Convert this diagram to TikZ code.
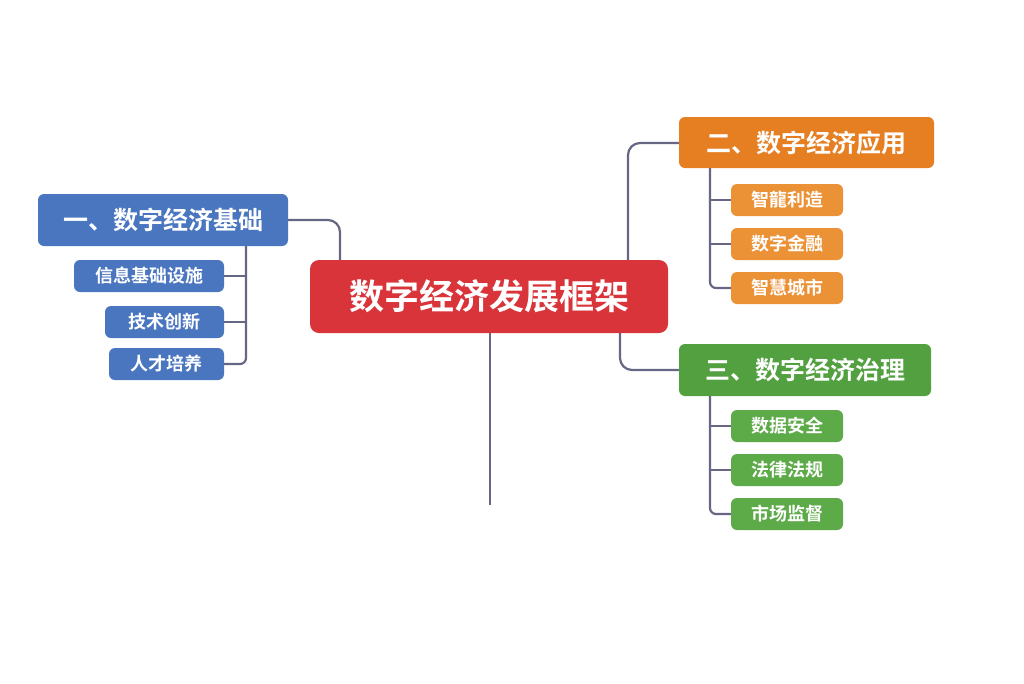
\documentclass[tikz,border=0pt]{standalone}
\usepackage{fontspec}
\setmainfont{Noto Sans CJK SC}
\newfontfamily\cjk{Noto Sans CJK SC Bold}
\begin{document}
\begin{tikzpicture}[x=1pt,y=-1pt,
 box/.style={rounded corners=6pt,text=white,font=\cjk,inner sep=0pt},
 ln/.style={draw=black!80!blue!60,line width=2.2pt,rounded corners=12pt}]
\useasboundingbox (0,0) rectangle (1024,683);
\definecolor{cr}{HTML}{D9343A}\definecolor{cb}{HTML}{4A76C0}
\definecolor{co}{HTML}{E67E22}\definecolor{cg}{HTML}{52A040}
\definecolor{cs}{HTML}{EC9236}\definecolor{cgs}{HTML}{5DAA48}
\newcommand\bx[7]{\node[box,fill=#6,minimum width=#3-#2,minimum height=#5-#4,font=\cjk\fontsize{#7}{#7}\selectfont] (#1) at ({(#2+#3)/2},{(#4+#5)/2}) {};}
% connectors
\coordinate (c1) at (340,260); \coordinate (c2) at (628,260);
\coordinate (c3) at (620,333); \coordinate (c4) at (490,333); \coordinate (c5) at (490,505);
\draw[ln] (288,220) -| (c1);
\draw[ln] (c2) |- (679,143);
\draw[ln] (c3) |- (679,370);
\draw[draw=black!80!blue!60,line width=2.2pt] (c4) -- (c5);
\draw[ln,rounded corners=6pt] (246,246) |- (224,364);
\draw[ln,line width=1.8pt] (224,276) -- (246,276) (224,322) -- (246,322);
\draw[ln,rounded corners=6pt] (710,168) |- (731,288);
\draw[ln,line width=1.8pt] (710,200) -- (731,200) (710,244) -- (731,244);
\draw[ln,rounded corners=6pt] (710,396) |- (731,514);
\draw[ln,line width=1.8pt] (710,426) -- (731,426) (710,470) -- (731,470);
% nodes
\node[box,fill=cr,minimum width=358,minimum height=73,rounded corners=9pt,font=\cjk\fontsize{35}{35}\selectfont] (m) at (489,296.5) {数字经济发展框架};
\node[box,fill=cb,minimum width=250,minimum height=52,font=\cjk\fontsize{25}{25}\selectfont] (a) at (163,220) {一、数字经济基础};
\node[box,fill=co,minimum width=255,minimum height=51,font=\cjk\fontsize{25}{25}\selectfont] (b) at (806.5,142.5) {二、数字经济应用};
\node[box,fill=cg,minimum width=252,minimum height=52,font=\cjk\fontsize{25}{25}\selectfont] (c) at (805,370) {三、数字经济治理};
\tikzset{sm/.style={box,minimum height=32,font=\cjk\fontsize{18}{18}\selectfont}}
\node[sm,fill=cb,minimum width=150] (a1) at (149,276) {信息基础设施};
\node[sm,fill=cb,minimum width=119] (a2) at (164.5,322) {技术创新};
\node[sm,fill=cb,minimum width=115] (a3) at (166.5,364) {人才培养};
\node[sm,fill=cs,minimum width=112] (b1) at (787,200) {智龍利造};
\node[sm,fill=cs,minimum width=112] (b2) at (787,244) {数字金融};
\node[sm,fill=cs,minimum width=112] (b3) at (787,288) {智慧城市};
\node[sm,fill=cgs,minimum width=112] (c1n) at (787,426) {数据安全};
\node[sm,fill=cgs,minimum width=112] (c2n) at (787,470) {法律法规};
\node[sm,fill=cgs,minimum width=112] (c3n) at (787,514) {市场监督};
\end{tikzpicture}
\end{document}
